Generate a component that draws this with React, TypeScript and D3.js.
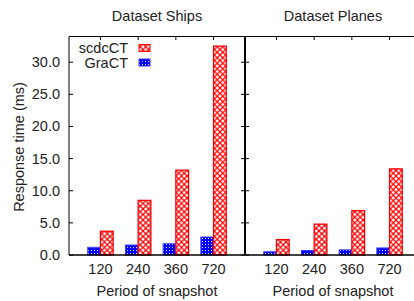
import * as d3 from 'd3'

const categories = ['120', '240', '360', '720']
const shipsScdc = [3.7, 8.5, 13.2, 32.5]
const shipsGract = [1.2, 1.55, 1.75, 2.8]
const planesScdc = [2.4, 4.8, 6.9, 13.4]
const planesGract = [0.5, 0.7, 0.8, 1.1]
const yTicks = [0, 5, 10, 15, 20, 25, 30]

const W = 414
const H = 301
const FONT = '"Liberation Sans", Arial, sans-serif'

const yScale = d3.scaleLinear().domain([0, 34]).range([255, 36.5])

function Panel(props: {x0: number, x1: number, scdc: number[], gract: number[], title: string}) {
    const xScale = d3.scaleBand()
        .domain(categories)
        .range([props.x0, props.x1])
        .paddingInner(0)
        .paddingOuter(0.334)
    const center = (c: string) => (xScale(c) as number) + xScale.bandwidth() / 2
    const barW = 12.7
    const midX = props.x0 + 88

    return (
        <g>
            {categories.map((c, i) => (
                <g key={c}>
                    <rect x={center(c) - barW} y={yScale(props.gract[i])} width={barW}
                        height={yScale(0) - yScale(props.gract[i])}
                        fill="url(#blueDots)" stroke="#3c3cff" strokeWidth={1} />
                    <rect x={center(c)} y={yScale(props.scdc[i])} width={barW}
                        height={yScale(0) - yScale(props.scdc[i])}
                        fill="url(#redHatch)" stroke="#ff0000" strokeWidth={1.3} />
                    <line x1={center(c)} x2={center(c)} y1={36.5} y2={40} stroke="#000" strokeWidth={1} />
                    <text x={center(c)} y={274} textAnchor="middle" fontSize={14.5} fontFamily={FONT} fill="#222">{c}</text>
                </g>
            ))}
            <text x={midX} y={296} textAnchor="middle" fontSize={14.5} fontFamily={FONT} fill="#222">Period of snapshot</text>
            <text x={midX} y={21} textAnchor="middle" fontSize={14.5} fontFamily={FONT} fill="#222">{props.title}</text>
        </g>
    )
}

export default function App() {
    return (
        <svg width={W} height={H} style={{position: 'absolute', left: 0, top: 0, background: '#fff'}}>
            <defs>
                <pattern id="redHatch" patternUnits="userSpaceOnUse" width={5.5} height={5.5}>
                    <rect width={5.5} height={5.5} fill="#fff" />
                    <path d="M-1,1 L1,-1 M0,5.5 L5.5,0 M4.5,6.5 L6.5,4.5" stroke="#ff0000" strokeWidth={1.25} />
                    <path d="M-1,4.5 L1,6.5 M0,0 L5.5,5.5 M4.5,-1 L6.5,1" stroke="#ff0000" strokeWidth={1.25} />
                </pattern>
                <pattern id="blueDots" patternUnits="userSpaceOnUse" width={3} height={3}>
                    <rect width={3} height={3} fill="#0000ff" />
                    <rect x={1} y={1} width={1} height={1} fill="#e0e0ff" />
                </pattern>
            </defs>
            <rect width={W} height={H} fill="#fff" />

            {/* frame */}
            <line x1={69} x2={69} y1={36.5} y2={255} stroke="#000" strokeWidth={1} />
            <line x1={69} x2={W} y1={36.5} y2={36.5} stroke="#000" strokeWidth={1} />

            {/* y ticks */}
            {yTicks.map(t => (
                <g key={t}>
                    <line x1={69} x2={73} y1={yScale(t)} y2={yScale(t)} stroke="#000" strokeWidth={1} />
                    <line x1={241} x2={249} y1={yScale(t)} y2={yScale(t)} stroke="#000" strokeWidth={1} />
                    <text x={60} y={yScale(t) + 5} textAnchor="end" fontSize={14.5} fontFamily={FONT} fill="#222">{t.toFixed(1)}</text>
                </g>
            ))}

            <Panel x0={69} x1={245} scdc={shipsScdc} gract={shipsGract} title="Dataset Ships" />
            <Panel x0={245} x1={421} scdc={planesScdc} gract={planesGract} title="Dataset Planes" />

            <line x1={69} x2={W} y1={255} y2={255} stroke="#000" strokeWidth={1.6} />
            <line x1={245} x2={245} y1={36.5} y2={255} stroke="#000" strokeWidth={2} />

            <text transform="translate(24,147) rotate(-90)" textAnchor="middle" fontSize={14.5} fontFamily={FONT} fill="#222">Response time (ms)</text>

            {/* legend */}
            <text x={128} y={53} textAnchor="end" fontSize={14.5} fontFamily={FONT} fill="#222">scdcCT</text>
            <rect x={139} y={44.5} width={11} height={7} fill="url(#redHatch)" stroke="#ff0000" strokeWidth={1} />
            <text x={128} y={68} textAnchor="end" fontSize={14.5} fontFamily={FONT} fill="#222">GraCT</text>
            <rect x={139} y={59} width={11} height={7} fill="url(#blueDots)" stroke="#3c3cff" strokeWidth={1} />
        </svg>
    )
}
